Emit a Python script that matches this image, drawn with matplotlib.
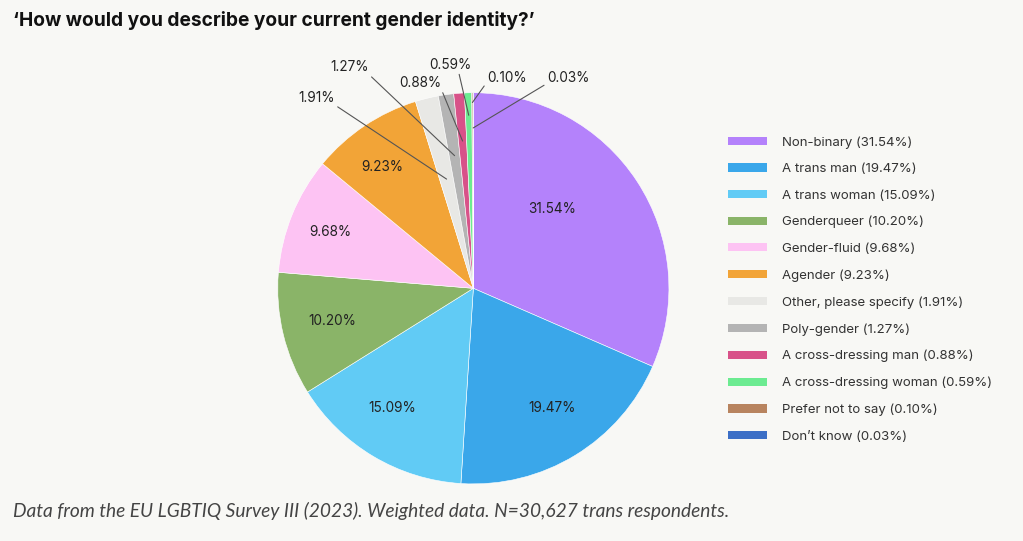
import matplotlib.pyplot as plt
from matplotlib.patches import Patch
import numpy as np

# Survey shares, pie drawn clockwise from the top
categories = ['Non-binary', 'A trans man', 'A trans woman', 'Genderqueer',
              'Gender-fluid', 'Agender', 'Other, please specify', 'Poly-gender',
              'A cross-dressing man', 'A cross-dressing woman',
              'Prefer not to say', 'Don\u2019t know']
shares = [31.54, 19.47, 15.09, 10.20, 9.68, 9.23, 1.91, 1.27, 0.88, 0.59, 0.10, 0.03]
colors = ['#b482fb', '#3aa7ea', '#61cbf5', '#8ab468', '#fdc3f3', '#f2a437',
          '#e8e8e5', '#b4b4b4', '#d85289', '#6ceb91', '#b8845f', '#3c6fc6']

BG = '#f8f8f5'
plt.rcParams['font.family'] = ['Inter', 'DejaVu Sans']

fig = plt.figure(figsize=(10.23, 5.41), dpi=100)
fig.patch.set_facecolor(BG)

ax = fig.add_axes([0.2715, 0.1055, 0.3824, 0.7231])
ax.set_facecolor(BG)
wedges, _ = ax.pie(shares, colors=colors, startangle=90, counterclock=False,
                   wedgeprops=dict(edgecolor='white', linewidth=0.4))
ax.set_xlim(-1, 1)
ax.set_ylim(-1, 1)
ax.axis('off')

def mid_angle(w):
    return np.deg2rad((w.theta1 + w.theta2) / 2)

# labels inside the big slices (radius, small angle tweak in degrees)
inner_r = [0.57, 0.73, 0.74, 0.74, 0.785, 0.775]
inner_shift = [11.9, 1.8, -3.1, -0.6, 0.5, 3.2]
for i in range(6):
    a = mid_angle(wedges[i]) + np.deg2rad(inner_shift[i])
    ax.text(inner_r[i] * np.cos(a), inner_r[i] * np.sin(a), f'{shares[i]:.2f}%',
            ha='center', va='center', fontsize=9.8, color='#222222')

# small slices get leader lines
point_r = [0.575, 0.685, 0.755, 0.885, 0.95, 0.82]
text_pos = [(-0.801, 0.973), (-0.633, 1.130), (-0.270, 1.050),
            (-0.119, 1.144), (0.171, 1.076), (0.484, 1.076)]
rel = [(1, 0), (1, 0), (1, 0), (0.7, 0), (-0.05, 0), (-0.05, 0)]
for k, i in enumerate(range(6, 12)):
    a = mid_angle(wedges[i])
    ax.annotate(f'{shares[i]:.2f}%',
                xy=(point_r[k] * np.cos(a), point_r[k] * np.sin(a)),
                xytext=text_pos[k], ha='center', va='center',
                fontsize=9.8, color='#222222', annotation_clip=False,
                arrowprops=dict(arrowstyle='-', color='#555555', lw=0.8,
                                shrinkA=0, shrinkB=0, relpos=rel[k]))

handles = [Patch(facecolor=c, edgecolor='none') for c in colors]
labels = [f'{c} ({v:.2f}%)' for c, v in zip(categories, shares)]
fig.legend(handles, labels, loc='upper left', bbox_to_anchor=(0.712, 0.748),
           frameon=False, fontsize=9.5, handlelength=2.95, handleheight=0.58,
           handletextpad=1.09, labelspacing=1.09, borderpad=0, borderaxespad=0,
           labelcolor='#333333')

fig.text(13 / 1023, 1 - 20 / 541,
         '\u2018How would you describe your current gender identity?\u2019',
         ha='left', va='center', fontsize=13.8, fontweight='bold', color='#111111')
fig.text(13 / 1023, 1 - 511 / 541,
         'Data from the EU LGBTIQ Survey III (2023). Weighted data. '
         'N=30,627 trans respondents.',
         ha='left', va='center', fontsize=13.8, style='italic', color='#444444',
         family=['Lato', 'DejaVu Sans'])

fig.savefig('out.png', dpi=100, facecolor=BG)
